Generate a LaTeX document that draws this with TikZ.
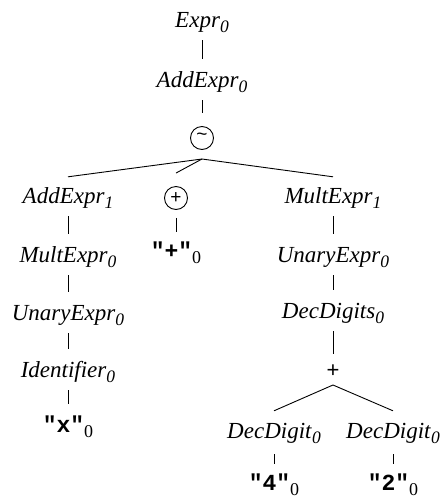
\documentclass[tikz,border=0pt]{standalone}
\usepackage{fontspec}
\setmainfont{Liberation Serif}
\newfontfamily\symfont{Liberation Sans}
\newfontfamily\litfont{Liberation Mono}
% nonterminal with italic index, literal with upright index
\newcommand{\nt}[2]{\textit{#1}\raisebox{-0.24em}{\fontsize{17.5}{17.5}\selectfont\textit{#2}}}
\newcommand{\lit}[1]{{\litfont\bfseries"#1"}\raisebox{-0.26em}{\fontsize{18}{18}\selectfont 0}}
\tikzset{
  label/.style={anchor=base, inner sep=0pt, text height=15pt, text depth=0pt,
    font=\fontsize{23}{27}\selectfont},
  opcirc/.style={circle, draw, line width=0.9pt, minimum size=23pt, inner sep=0pt,
    font=\symfont\fontsize{19}{19}\selectfont},
  opsym/.style={inner sep=0pt, font=\symfont\fontsize{22}{22}\selectfont},
  link/.style={line width=0.9pt, shorten <=13pt, shorten >=13pt},
  fan/.style={line width=0.9pt},
}
\begin{document}
\begin{tikzpicture}[x=1pt,y=1pt]
\useasboundingbox (0,0) rectangle (443,-499);
% spine
\node[label] (e0) at (202,-27) {\nt{Expr}{0}};
\node[label] (ae0) at (202,-87) {\nt{AddExpr}{0}};
\node[opcirc] (seq) at (202,-138) {\raisebox{0.1em}{\char`~}};
\coordinate (j1) at (202,-159);
% left branch
\node[label] (ae1) at (68,-203) {\nt{AddExpr}{1}};
\node[label] (me0) at (68,-262) {\nt{MultExpr}{0}};
\node[label] (ue0) at (68,-320) {\nt{UnaryExpr}{0}};
\node[label] (id0) at (68,-377) {\nt{Identifier}{0}};
\node[label] (lx) at (68,-432) {\lit{x}};
% middle branch
\node[opcirc] (alt) at (176,-198) {+};
\node[label] (lplus) at (176,-258) {\lit{+}};
% right branch
\node[label] (me1) at (333,-203) {\nt{MultExpr}{1}};
\node[label] (ue0r) at (333,-262) {\nt{UnaryExpr}{0}};
\node[label] (dd0) at (333,-318) {\nt{DecDigits}{0}};
\node[opsym] (rep) at (333,-371) {+};
\coordinate (j2) at (333,-385);
\node[label] (dl) at (274,-438) {\nt{DecDigit}{0}};
\node[label] (dr) at (393,-438) {\nt{DecDigit}{0}};
\node[label] (l4) at (274,-490) {\lit{4}};
\node[label] (l2) at (393,-490) {\lit{2}};
% connectors
\draw[link] (e0.south) -- (ae0.north);
\draw[link] (ae0.south) -- (seq.north);
\draw[fan] (j1) -- ([yshift=11pt]ae1.north);
\draw[fan] (j1) -- ([yshift=13pt]alt.north);
\draw[fan] (j1) -- ([yshift=11pt]me1.north);
\draw[link] (ae1.south) -- (me0.north);
\draw[link] (me0.south) -- (ue0.north);
\draw[link] (ue0.south) -- (id0.north);
\draw[link] (id0.south) -- (lx.north);
\draw[link, shorten <=8pt, shorten >=11pt] (alt.south) -- (lplus.north);
\draw[link] (me1.south) -- (ue0r.north);
\draw[link] (ue0r.south) -- (dd0.north);
\draw[link, shorten >=10pt] (dd0.south) -- (rep.north);
\draw[fan] (j2) -- ([yshift=12pt]dl.north);
\draw[fan] (j2) -- ([yshift=12pt]dr.north);
\draw[link, shorten <=16pt, shorten >=11pt] (dl.south) -- (l4.north);
\draw[link, shorten <=16pt, shorten >=11pt] (dr.south) -- (l2.north);
\end{tikzpicture}
\end{document}
